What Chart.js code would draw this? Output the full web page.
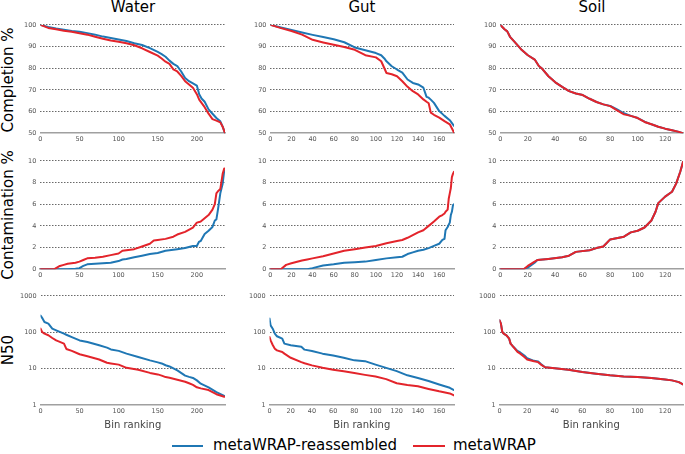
<!DOCTYPE html>
<html>
<head>
<meta charset="utf-8">
<script src="https://cdn.jsdelivr.net/npm/chart.js@4.4.0/dist/chart.umd.min.js"></script>
<style>
  html, body { margin: 0; padding: 0; background: #fff; overflow: hidden; }
  #fig { position: relative; width: 685px; height: 454px; font-family: 'DejaVu Sans', sans-serif; color: #000; }
  #fig canvas { position: absolute; }
  .title { position: absolute; top: 0px; font-size: 15px; line-height: 15px; white-space: nowrap; transform: translateX(-50%); }
  .ylab { position: absolute; font-size: 15px; line-height: 15px; white-space: nowrap; transform: translate(-50%, -50%) rotate(-90deg); }
  .legline { position: absolute; height: 2px; }
  .legtxt { position: absolute; top: 438px; font-size: 15px; line-height: 15px; white-space: nowrap; }
</style>
</head>
<body>
<div id="fig">
  <div class="title" style="left:133px">Water</div>
  <div class="title" style="left:362px">Gut</div>
  <div class="title" style="left:592px">Soil</div>
  <div class="ylab" style="left:8px;top:80px">Completion %</div>
  <div class="ylab" style="left:8px;top:215px">Contamination %</div>
  <div class="ylab" style="left:8px;top:350px">N50</div>
  <div class="legline" id="legBlue" style="left:172px;top:445px;width:31px"></div>
  <div class="legtxt" style="left:213px">metaWRAP-reassembled</div>
  <div class="legline" id="legRed" style="left:413px;top:445px;width:32px"></div>
  <div class="legtxt" style="left:453px">metaWRAP</div>
</div>
<script>
const BLUE = '#1f77b4';
const RED = '#e3242b';

// x axis ticks per environment
const waterTicks = [0, 50, 100, 150, 200];
const gutTicks = [0, 20, 40, 60, 80, 100, 120, 140, 160];
const soilTicks = [0, 20, 40, 60, 80, 100, 120];
const binCounts = [236, 174, 133];

// y axis ticks per metric
const completionTicks = [50, 60, 70, 80, 90, 100];
const contaminationTicks = [0, 2, 4, 6, 8, 10];
const n50Ticks = [1, 10, 100, 1000];

// Water
const waterCompRank = [0, 10, 20, 30, 40, 50, 60, 70, 80, 90, 100, 110, 120, 130, 140, 150, 155, 160, 165, 170, 175, 180, 185, 190, 195, 200, 203, 206, 210, 215, 220, 225, 230, 233, 236];
const waterCompReasm = [100, 99, 98.3, 97.8, 97.2, 96.8, 96.2, 95.5, 94.6, 94, 93.3, 92.6, 91.5, 90.7, 89.3, 87.5, 86.5, 85.3, 83.5, 82, 81, 78.5, 75.5, 74, 73, 72, 68, 66, 64.5, 61, 59, 57, 55.5, 53, 50];
const waterCompMeta = [100, 98.6, 98, 97.3, 96.8, 96.1, 95.5, 94.5, 93.6, 92.8, 92.2, 91.5, 90.6, 89.2, 87.5, 85.8, 84.5, 83, 82, 79.5, 78.5, 76.5, 74, 72.5, 71, 68, 65.5, 64, 62, 59, 56.5, 55.8, 55, 53, 50];

const waterContRank = [0, 18, 25, 30, 35, 45, 50, 55, 60, 70, 80, 90, 100, 105, 110, 120, 130, 140, 145, 150, 160, 170, 175, 185, 195, 200, 203, 205, 210, 215, 220, 223, 225, 227, 230, 233, 235];
const waterContReasm = [0, 0, 0, 0, 0, 0.05, 0.1, 0.3, 0.45, 0.5, 0.55, 0.6, 0.75, 0.9, 0.95, 1.1, 1.25, 1.4, 1.45, 1.5, 1.7, 1.8, 1.85, 1.95, 2.15, 2.15, 2.55, 2.6, 3.25, 3.55, 3.9, 4.5, 4.6, 5.5, 7.0, 7.9, 9.1];
const waterContMeta = [0, 0, 0.3, 0.4, 0.5, 0.6, 0.7, 0.85, 1.0, 1.05, 1.15, 1.3, 1.45, 1.7, 1.75, 1.85, 2.1, 2.35, 2.65, 2.7, 2.8, 3.0, 3.2, 3.45, 3.85, 4.3, 4.35, 4.4, 4.7, 5.0, 5.5, 6.0, 7.0, 7.2, 7.4, 8.8, 9.3];

const waterN50Rank = [0, 2, 5, 10, 15, 20, 30, 33, 40, 50, 60, 75, 85, 90, 100, 110, 125, 140, 150, 155, 160, 165, 175, 185, 190, 195, 200, 205, 215, 225, 235];
const waterN50Reasm = [290, 250, 192, 174, 126, 113, 92, 86, 74, 60, 54, 44, 38, 34, 31, 26, 21, 17, 15, 14, 12.5, 11.6, 9, 6.5, 6.0, 5.6, 4.8, 3.9, 3.1, 2.3, 1.8];
const waterN50Meta = [127, 102, 92, 83, 70, 60, 49, 35, 31, 25, 22, 18, 14.6, 14, 13, 10.6, 9.4, 7.7, 7.0, 6.5, 5.9, 5.7, 5.0, 4.4, 4.0, 3.6, 3.1, 2.9, 2.6, 2.0, 1.7];

// Gut
const gutCompRank = [0, 10, 20, 30, 40, 50, 60, 70, 80, 90, 100, 105, 108, 110, 115, 120, 125, 130, 135, 140, 145, 148, 150, 152, 155, 160, 165, 170, 174];
const gutCompReasm = [100, 98.8, 97.7, 96.5, 95.4, 94.4, 93.4, 92, 89.6, 88.3, 87, 86, 84.5, 83.2, 80.9, 79.4, 78, 74.8, 73.2, 72.5, 71, 66.8, 66.4, 65.5, 64, 60.2, 58, 56, 53.4];
const gutCompMeta = [100, 98.5, 97.2, 95.5, 93.1, 91.9, 90.8, 89.8, 88.5, 86, 85, 83.2, 80, 77.8, 77.2, 76.3, 74, 71.4, 69.4, 67.9, 65.6, 64.5, 63.8, 59.5, 58.5, 57.2, 55.6, 54.1, 50.3];

const gutContRank = [0, 10, 15, 20, 30, 35, 40, 50, 60, 70, 80, 90, 100, 110, 120, 125, 130, 135, 140, 145, 150, 155, 160, 163, 165, 166, 168, 169, 170, 171, 172, 173, 174];
const gutContReasm = [0, 0, 0, 0, 0, 0, 0.1, 0.35, 0.45, 0.6, 0.65, 0.7, 0.85, 1.0, 1.1, 1.15, 1.4, 1.55, 1.7, 1.8, 1.95, 2.15, 2.35, 2.7, 2.8, 3.6, 3.9, 4.1, 4.3, 5.0, 5.3, 5.9, 6.0];
const gutContMeta = [0, 0, 0.4, 0.55, 0.8, 0.9, 1.0, 1.2, 1.45, 1.7, 1.85, 2.0, 2.15, 2.4, 2.6, 2.7, 2.9, 3.15, 3.4, 3.6, 4.0, 4.4, 4.85, 5.0, 5.15, 5.3, 5.5, 6.5, 7.0, 7.5, 8.5, 8.8, 9.0];

const gutN50Rank = [0, 1, 3, 5, 7, 12, 14, 20, 30, 33, 40, 50, 60, 70, 80, 90, 100, 110, 120, 130, 140, 150, 160, 170, 174];
const gutN50Reasm = [238, 155, 126, 92, 78, 67, 49, 44, 40, 33.5, 30.6, 26, 23, 20, 17, 16.2, 13, 10.6, 8.6, 6.6, 5.6, 4.6, 3.7, 3.0, 2.6];
const gutN50Meta = [74.5, 60, 45, 35.6, 32, 29, 26, 20, 15.2, 14.2, 12.4, 10.6, 9.4, 8.5, 7.6, 6.8, 6.1, 5.2, 4.0, 3.6, 3.3, 2.8, 2.4, 2.1, 1.85];

// Soil
const soilCompRank = [0, 3, 5, 7, 10, 15, 20, 25, 28, 30, 35, 40, 45, 50, 55, 60, 65, 70, 75, 80, 85, 90, 95, 100, 105, 110, 115, 120, 125, 130, 133];
const soilCompReasm = [100, 98, 97, 94.5, 92.4, 88.8, 86, 84, 81, 80, 76.3, 73.5, 71.4, 69.4, 68.3, 67.6, 65.9, 64.4, 63.3, 62.6, 61, 59.2, 58, 57, 55.3, 54.1, 53, 52.1, 51.4, 50.6, 50];
const soilCompMeta = [100, 98, 97, 94.5, 92.4, 88.8, 86, 84, 81, 80, 76.3, 73.5, 71.4, 69.4, 68.3, 67.6, 65.9, 64.4, 63.3, 62.5, 60.5, 58.7, 58, 57, 55.2, 54.1, 53, 52.1, 51.4, 50.6, 50];

const soilContRank = [0, 17, 20, 25, 27, 35, 45, 50, 55, 65, 70, 75, 80, 90, 95, 100, 105, 110, 113, 115, 120, 125, 128, 131, 133];
const soilContReasm = [0, 0, 0.15, 0.6, 0.85, 0.95, 1.1, 1.25, 1.6, 1.75, 1.95, 2.1, 2.75, 3.0, 3.4, 3.55, 3.85, 4.5, 5.3, 6.1, 6.7, 7.15, 7.9, 9.0, 9.9];
const soilContMeta = [0, 0, 0.3, 0.7, 0.85, 0.95, 1.1, 1.25, 1.6, 1.75, 1.95, 2.1, 2.75, 3.0, 3.4, 3.55, 3.85, 4.5, 5.3, 6.1, 6.7, 7.15, 7.9, 9.0, 9.9];

const soilN50Rank = [0, 1, 2, 3, 5, 7, 8, 10, 13, 15, 18, 20, 25, 28, 30, 33, 40, 50, 60, 70, 80, 90, 100, 110, 120, 125, 130, 133];
const soilN50Reasm = [214, 173, 102, 92, 83, 67, 49, 40, 31, 28, 23, 19.5, 16.5, 15.8, 13.5, 11, 10.4, 9.4, 8.1, 7.3, 6.6, 6.1, 5.9, 5.6, 5.1, 4.8, 4.3, 3.7];
const soilN50Meta = [214, 173, 102, 92, 83, 67, 49, 40, 29, 26, 21, 18, 16, 15.2, 13, 11, 10.4, 9.4, 8.1, 7.3, 6.6, 6.1, 5.9, 5.6, 5.1, 4.8, 4.3, 3.7];

// where each plot area sits in the figure (pixels)
const colSlots = [{ l: 40.7, r: 226 }, { l: 270, r: 455 }, { l: 500, r: 684 }];
const rowSlots = [{ t: 25.3, b: 134 }, { t: 160.7, b: 269.3 }, { t: 295.7, b: 404.7 }];
const colTicks = [waterTicks, gutTicks, soilTicks];

const panels = [
  { row: 0, col: 0, xs: waterCompRank, blue: waterCompReasm, red: waterCompMeta },
  { row: 0, col: 1, xs: gutCompRank, blue: gutCompReasm, red: gutCompMeta },
  { row: 0, col: 2, xs: soilCompRank, blue: soilCompReasm, red: soilCompMeta },
  { row: 1, col: 0, xs: waterContRank, blue: waterContReasm, red: waterContMeta },
  { row: 1, col: 1, xs: gutContRank, blue: gutContReasm, red: gutContMeta },
  { row: 1, col: 2, xs: soilContRank, blue: soilContReasm, red: soilContMeta },
  { row: 2, col: 0, xs: waterN50Rank, blue: waterN50Reasm, red: waterN50Meta },
  { row: 2, col: 1, xs: gutN50Rank, blue: gutN50Reasm, red: gutN50Meta },
  { row: 2, col: 2, xs: soilN50Rank, blue: soilN50Reasm, red: soilN50Meta }
];

const FONT = 'DejaVu Sans';
const fig = document.getElementById('fig');
document.getElementById('legBlue').style.background = BLUE;
document.getElementById('legRed').style.background = RED;

function toPoints(xs, ys) {
  return xs.map((x, i) => ({ x: x, y: ys[i] }));
}

function yScale(row) {
  const base = {
    ticks: { padding: 4, color: '#555', font: { family: FONT, size: 6.5 }, autoSkip: false, callback: v => String(v) },
    grid: { drawTicks: false, lineWidth: 0.8, color: ctx => ctx.index === 0 ? 'rgba(0,0,0,0)' : '#444' },
    border: { display: false, dash: [1.5, 1.5] }
  };
  let tickVals;
  if (row === 0) { base.type = 'linear'; base.min = 50; base.max = 100; tickVals = completionTicks; }
  else if (row === 1) { base.type = 'linear'; base.min = 0; base.max = 10; tickVals = contaminationTicks; }
  else { base.type = 'logarithmic'; base.min = 1; base.max = 1000; tickVals = n50Ticks; }
  base.afterBuildTicks = s => { s.ticks = tickVals.map(v => ({ value: v })); };
  return base;
}

function xScale(row, col) {
  const tickVals = colTicks[col];
  return {
    type: 'linear',
    min: 0,
    max: binCounts[col],
    afterBuildTicks: s => { s.ticks = tickVals.map(v => ({ value: v })); },
    ticks: { padding: 2.5, color: '#555', font: { family: FONT, size: 6.5 }, maxRotation: 0, autoSkip: false },
    grid: { drawOnChartArea: false, drawTicks: false },
    border: { display: true, color: '#a0a0a0', width: 1.6 },
    title: {
      display: row === 2,
      text: 'Bin ranking',
      color: '#444',
      font: { family: FONT, size: 10 },
      padding: { top: 1, bottom: 0 }
    }
  };
}

function buildPanel(p) {
  const canvas = document.createElement('canvas');
  canvas.width = 260;
  canvas.height = 150;
  fig.appendChild(canvas);

  const chart = new Chart(canvas, {
    type: 'line',
    data: {
      datasets: [
        { label: 'metaWRAP', data: toPoints(p.xs, p.red), borderColor: RED, backgroundColor: RED },
        { label: 'metaWRAP-reassembled', data: toPoints(p.xs, p.blue), borderColor: BLUE, backgroundColor: BLUE }
      ]
    },
    options: {
      responsive: false,
      maintainAspectRatio: false,
      animation: false,
      devicePixelRatio: 1,
      layout: { padding: 0 },
      elements: {
        point: { radius: 0 },
        line: { borderWidth: 2, tension: 0, borderJoinStyle: 'round', borderCapStyle: 'round' }
      },
      plugins: { legend: { display: false }, tooltip: { enabled: false } },
      scales: { x: xScale(p.row, p.col), y: yScale(p.row) }
    }
  });

  // size the canvas so that its plot area lands on the slot
  const col = colSlots[p.col], row = rowSlots[p.row];
  let a = chart.chartArea;
  const mL = a.left, mT = a.top, mR = chart.width - a.right, mB = chart.height - a.bottom;
  chart.resize(Math.round(col.r - col.l + mL + mR), Math.round(row.b - row.t + mT + mB));
  a = chart.chartArea;
  canvas.style.left = (col.l - a.left) + 'px';
  canvas.style.top = (row.t - a.top) + 'px';
}

panels.forEach(buildPanel);
</script>
</body>
</html>
